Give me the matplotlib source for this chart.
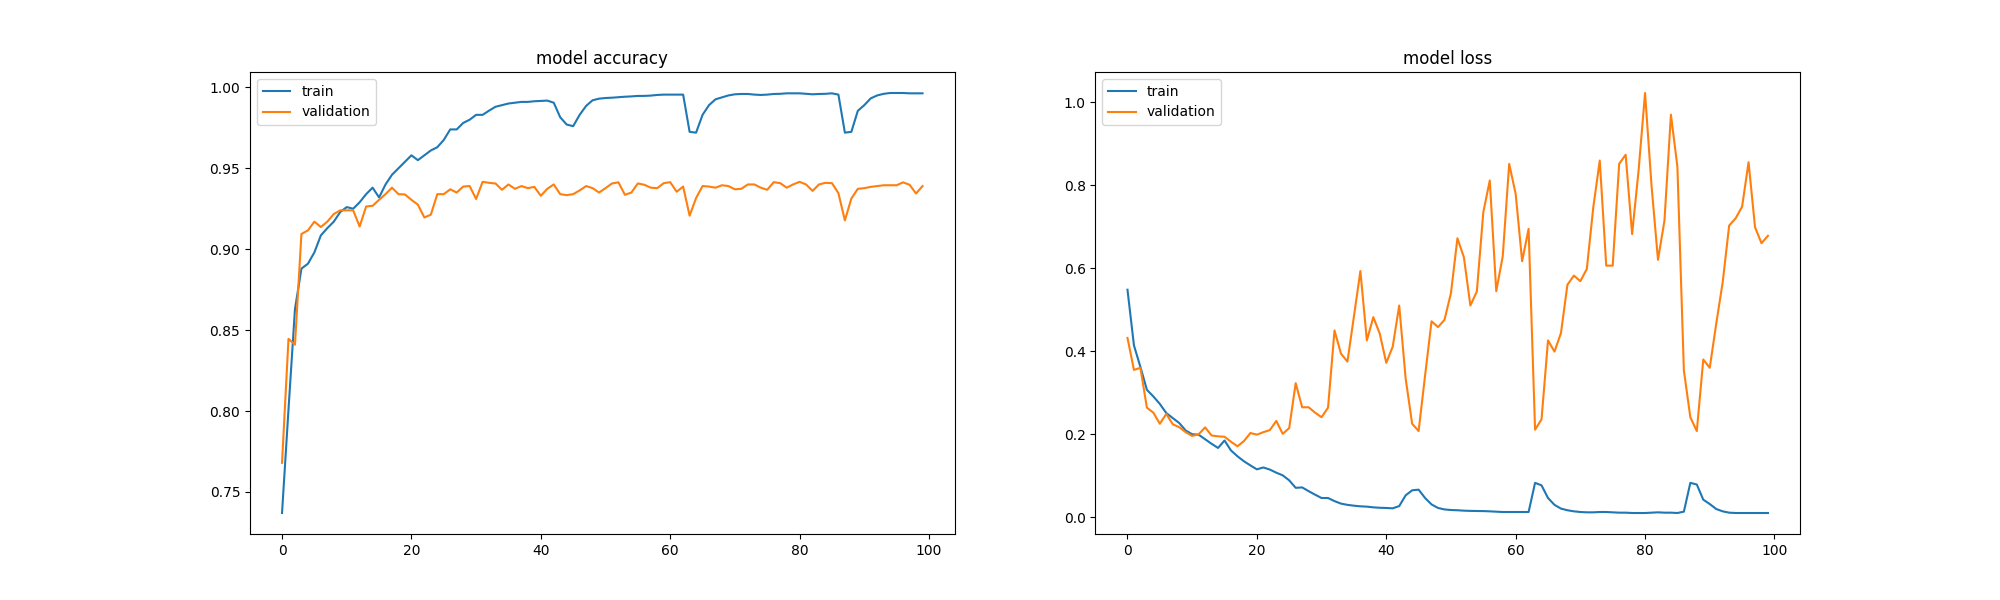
import matplotlib
matplotlib.use("Agg")
import matplotlib.pyplot as plt

epochs = list(range(100))

train_acc = [
    0.737, 0.801, 0.863, 0.888, 0.891, 0.898, 0.9085, 0.913, 0.917, 0.923,
    0.926, 0.925, 0.929, 0.934, 0.938, 0.932, 0.940, 0.946, 0.950, 0.954,
    0.958, 0.955, 0.958, 0.961, 0.963, 0.9675, 0.974, 0.974, 0.978, 0.980,
    0.983, 0.983, 0.9856, 0.988, 0.989, 0.990, 0.9905, 0.991, 0.991, 0.9914,
    0.9916, 0.9918, 0.9905, 0.9815, 0.977, 0.976, 0.983, 0.9885, 0.992, 0.993,
    0.9934, 0.9936, 0.9939, 0.9942, 0.9944, 0.9947, 0.9947, 0.9949, 0.9953, 0.9955,
    0.9955, 0.9955, 0.9955, 0.9725, 0.972, 0.983, 0.989, 0.9926, 0.9938, 0.995,
    0.9957, 0.9959, 0.9959, 0.9955, 0.9953, 0.9955, 0.9959, 0.996, 0.9963, 0.9963,
    0.9963, 0.996, 0.9957, 0.9959, 0.996, 0.9963, 0.9955, 0.972, 0.9725, 0.9855,
    0.989, 0.9932, 0.995, 0.996, 0.9965, 0.9965, 0.9965, 0.9963, 0.9963, 0.9963,
]

val_acc = [
    0.768, 0.8446, 0.841, 0.9094, 0.9116, 0.917, 0.9137, 0.917, 0.9217, 0.924,
    0.924, 0.924, 0.914, 0.9264, 0.9268, 0.9305, 0.934, 0.938, 0.934, 0.9338,
    0.9305, 0.9275, 0.9196, 0.9213, 0.934, 0.934, 0.937, 0.935, 0.9387, 0.939,
    0.931, 0.9416, 0.941, 0.9406, 0.9367, 0.940, 0.9373, 0.939, 0.9377, 0.9385,
    0.933, 0.9373, 0.940, 0.934, 0.9334, 0.934, 0.9363, 0.939, 0.9377, 0.935,
    0.9377, 0.9406, 0.9413, 0.9336, 0.935, 0.9406, 0.9398, 0.938, 0.9377, 0.9408,
    0.9414, 0.9355, 0.9387, 0.9207, 0.9316, 0.939, 0.9387, 0.938, 0.9395, 0.939,
    0.937, 0.9373, 0.940, 0.940, 0.938, 0.9367, 0.9414, 0.9408, 0.938, 0.940,
    0.9416, 0.940, 0.936, 0.940, 0.941, 0.9408, 0.9346, 0.9178, 0.9313, 0.9373,
    0.9377, 0.9385, 0.939, 0.9395, 0.9395, 0.9395, 0.9413, 0.9398, 0.9344, 0.939,
]

train_loss = [
    0.548, 0.414, 0.362, 0.307, 0.291, 0.273, 0.251, 0.239, 0.227, 0.209,
    0.200, 0.199, 0.188, 0.177, 0.167, 0.185, 0.161, 0.147, 0.135, 0.125,
    0.1155, 0.120, 0.115, 0.1075, 0.101, 0.089, 0.071, 0.072, 0.063, 0.0545,
    0.0465, 0.0465, 0.039, 0.033, 0.030, 0.028, 0.0265, 0.0257, 0.024, 0.023,
    0.0225, 0.0217, 0.027, 0.053, 0.065, 0.0666, 0.0465, 0.031, 0.0225, 0.019,
    0.0176, 0.017, 0.016, 0.0155, 0.0152, 0.015, 0.0144, 0.0136, 0.0128, 0.0128,
    0.0128, 0.0128, 0.0128, 0.083, 0.077, 0.0465, 0.030, 0.021, 0.017, 0.0144,
    0.0128, 0.012, 0.012, 0.0128, 0.0128, 0.012, 0.0112, 0.0112, 0.0104, 0.0104,
    0.0104, 0.0112, 0.012, 0.0112, 0.0112, 0.0104, 0.0136, 0.083, 0.079, 0.0425,
    0.032, 0.020, 0.0144, 0.0112, 0.0104, 0.0104, 0.0104, 0.0104, 0.0104, 0.0104,
]

val_loss = [
    0.432, 0.355, 0.360, 0.264, 0.252, 0.2253, 0.249, 0.224, 0.217, 0.205,
    0.196, 0.200, 0.2165, 0.197, 0.195, 0.194, 0.182, 0.171, 0.1836, 0.203,
    0.199, 0.205, 0.210, 0.232, 0.201, 0.215, 0.323, 0.265, 0.265, 0.252,
    0.241, 0.264, 0.450, 0.394, 0.375, 0.4836, 0.593, 0.426, 0.482, 0.442,
    0.372, 0.411, 0.510, 0.3336, 0.2253, 0.2077, 0.3416, 0.472, 0.458, 0.4755,
    0.540, 0.672, 0.626, 0.510, 0.5437, 0.7346, 0.811, 0.5445, 0.628, 0.851,
    0.779, 0.6167, 0.6945, 0.211, 0.236, 0.426, 0.399, 0.4435, 0.560, 0.582,
    0.5686, 0.598, 0.7466, 0.859, 0.606, 0.606, 0.851, 0.873, 0.682, 0.835,
    1.0217, 0.799, 0.620, 0.7145, 0.9695, 0.844, 0.3537, 0.241, 0.2077, 0.380,
    0.360, 0.466, 0.566, 0.7025, 0.720, 0.748, 0.855, 0.6985, 0.660, 0.678,
]

fig, (ax_acc, ax_loss) = plt.subplots(1, 2, figsize=(20, 6), dpi=100)

ax_acc.plot(epochs, train_acc, label="train")
ax_acc.plot(epochs, val_acc, label="validation")
ax_acc.set_title("model accuracy")
ax_acc.legend(loc="upper left")

ax_loss.plot(epochs, train_loss, label="train")
ax_loss.plot(epochs, val_loss, label="validation")
ax_loss.set_title("model loss")
ax_loss.legend(loc="upper left")

fig.savefig("out.png")
